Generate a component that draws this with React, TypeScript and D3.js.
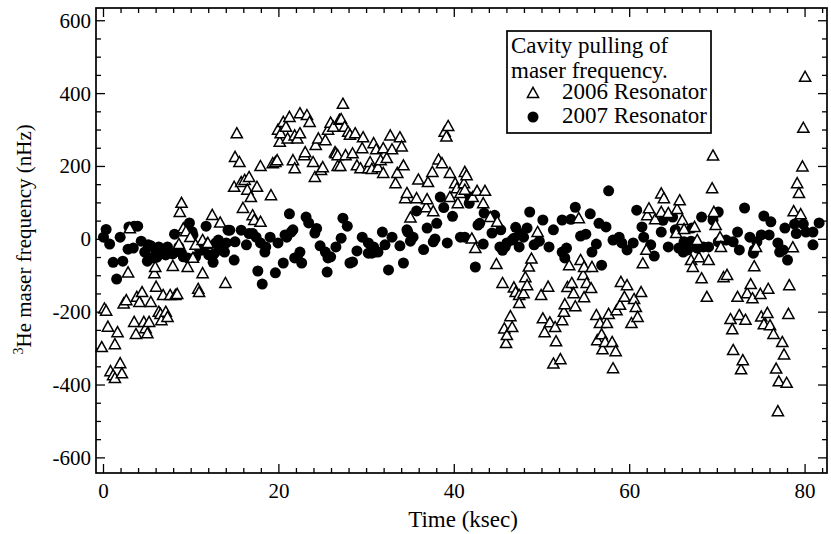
import React from "react";
import * as d3 from "d3";

// [time ksec, shift nHz]
const res2006: [number, number][] = [
  [-0.2, -296], [0.1, -190], [0.3, -196], [0.5, -240], [0.8, -362], [1.1, -373], [1.3, -381], [1.3, -288],
  [1.6, -255], [1.9, -340], [2.1, -368], [2.3, -176], [2.6, -167], [2.8, -91], [3.0, 30], [3.5, -227],
  [3.7, -260], [3.8, -158], [4.1, -172], [4.4, -145], [4.6, -227], [4.8, -244], [5.0, -258], [5.2, -227],
  [5.4, -172], [5.8, -93], [5.9, -76], [6.0, -130], [6.3, -199], [6.5, -205], [6.6, -222], [6.8, -153],
  [7.1, -199], [7.3, -213], [7.6, -153], [7.9, -73], [8.2, -153], [8.4, -150], [8.6, -13], [8.7, 75],
  [8.9, 100], [9.1, 30], [9.4, 22], [9.6, -76], [9.9, 6], [10.2, -51], [10.5, -15], [10.8, -136],
  [10.9, -145], [11.3, -93], [11.3, -2], [11.8, -13], [11.9, -10], [12.4, 67], [13.3, 46], [13.9, -120],
  [14.9, 144], [15.0, 226], [15.2, 291], [15.5, 212], [15.7, 157], [15.9, 86], [16.1, 163], [16.4, 136],
  [16.6, 171], [16.8, 116], [17.0, 66], [17.2, 53], [17.5, 144], [17.9, 201], [17.9, 48], [19.1, 121],
  [19.3, 209], [19.6, 212], [19.8, 217], [19.9, 301], [20.1, 268], [20.2, 291], [20.5, 322], [20.8, 309],
  [21.0, 277], [21.2, 336], [21.6, 217], [21.8, 195], [21.8, 285], [22.1, 277], [22.4, 291], [22.4, 346],
  [22.9, 231], [23.0, 239], [23.2, 341], [23.5, 322], [23.9, 212], [24.1, 171], [24.2, 259], [24.5, 277],
  [24.8, 190], [25.0, 198], [25.3, 272], [25.6, 301], [25.9, 320], [26.2, 309], [26.4, 239], [26.5, 236],
  [26.7, 231], [26.7, 201], [26.9, 328], [27.0, 201], [27.1, 330], [27.3, 372], [27.5, 309], [27.6, 231],
  [27.9, 295], [28.1, 287], [28.4, 236], [28.7, 291], [28.9, 203], [29.3, 195], [29.5, 250], [29.6, 280],
  [30.2, 195], [30.4, 212], [30.6, 193], [30.8, 264], [31.1, 247], [31.3, 198], [31.6, 217], [31.9, 182],
  [31.9, 250], [32.3, 223], [32.7, 285], [32.9, 247], [33.3, 154], [33.5, 182], [33.8, 280], [34.0, 255],
  [34.2, 203], [34.4, 113], [34.6, 127], [35.0, 60], [35.7, 113], [35.9, 164], [36.8, 88], [36.9, 110],
  [37.0, 157], [37.5, 185], [37.6, 77], [38.2, 219], [38.6, 209], [38.9, 295], [39.1, 282], [39.3, 311],
  [39.5, 182], [39.5, 116], [40.1, 154], [40.3, 140], [40.4, 99], [40.7, 127], [41.1, 154], [41.2, 185],
  [41.2, 136], [41.4, 176], [42.0, 2], [42.1, 116], [42.4, -24], [42.6, 133], [43.3, 99], [43.5, 133],
  [44.1, 61], [44.8, -68], [44.9, 48], [45.5, -120], [45.7, -245], [45.9, -285], [46.0, -263], [46.4, -211],
  [46.6, -241], [46.8, -132], [47.0, -145], [47.4, -153], [47.4, -175], [47.9, -148], [48.1, -104], [48.3, -126],
  [48.5, -75], [48.8, -53], [49.5, 20], [49.9, -153], [50.1, -217], [50.3, -255], [50.7, -130], [50.9, -228],
  [51.3, -341], [51.5, -241], [51.6, -280], [52.1, -329], [52.3, -222], [52.5, -199], [52.6, -178], [52.9, -131],
  [53.1, -71], [53.4, -120], [53.6, -148], [53.8, -184], [54.2, 58], [54.4, -57], [54.7, -98], [54.8, -159],
  [54.8, -76], [55.1, -120], [55.6, -134], [55.7, -76], [56.2, -208], [56.3, -277], [56.6, -230], [56.8, -261],
  [56.9, -302], [57.2, -282], [57.4, -230], [57.6, -205], [58.0, -282], [58.1, -354], [58.4, -307], [58.5, -195],
  [58.9, -180], [59.0, -117], [59.4, -158], [59.7, -126], [60.2, -230], [60.5, -164], [60.7, -186], [60.9, -213],
  [61.3, -145], [61.5, -66], [61.9, -29], [62.0, 66], [62.2, 85], [62.9, 55], [63.6, 75], [63.6, 126],
  [63.9, 113], [64.4, 72], [65.3, 17], [65.4, 83], [65.7, 107], [66.0, 53], [66.2, 28], [67.0, -57],
  [67.2, -76], [67.4, 34], [67.7, -2], [67.9, -49], [68.2, -107], [68.8, -158], [69.0, -57], [69.4, 140],
  [69.5, 230], [69.6, 75], [69.8, 39], [70.3, 6], [70.4, -21], [70.7, -104], [71.1, -98], [71.5, -219],
  [71.7, -247], [71.8, -304], [72.3, -158], [72.5, -208], [72.7, -357], [72.9, -332], [73.2, -221], [73.4, -148],
  [73.8, -123], [74.0, -162], [74.2, -74], [74.4, -21], [74.9, -150], [75.0, -212], [75.3, -233], [75.7, -202],
  [75.8, -136], [76.0, -236], [76.4, -260], [76.7, -355], [76.9, -472], [77.0, -390], [77.4, -282], [77.6, -316],
  [77.9, -394], [78.1, -205], [78.2, -126], [78.6, -22], [78.7, 77], [79.1, 154], [79.3, 127], [79.5, 69],
  [79.7, 200], [79.8, 306], [80.0, 446],
];

const res2007: [number, number][] = [
  [0.0, 6], [0.3, 27], [0.7, -13], [1.1, -63], [1.5, -109], [1.9, 6], [2.2, -60], [2.8, -27],
  [2.9, 34], [3.4, -24], [3.5, 36], [3.9, 36], [4.3, -5], [4.7, -35], [5.0, -60], [5.1, -15],
  [5.4, -18], [5.5, -51], [5.9, -29], [6.1, -49], [6.3, -21], [6.8, -35], [7.1, -43], [7.3, -21],
  [7.9, -40], [8.1, 14], [8.6, -21], [8.9, -38], [9.1, -48], [9.6, -51], [9.8, 45], [10.1, 21],
  [10.2, 12], [10.5, -48], [10.8, -21], [11.1, -30], [11.4, -25], [11.7, 36], [12.0, -43], [12.5, -63],
  [12.6, -40], [12.8, -10], [13.1, -2], [13.2, -29], [13.6, -20], [13.8, -35], [14.0, -10], [14.2, 25],
  [14.4, 25], [14.9, -57], [15.0, -7], [15.7, 25], [16.3, -15], [16.6, 16], [17.0, 16], [17.4, 6],
  [17.6, -87], [17.9, -10], [18.1, -123], [18.4, -35], [18.5, -21], [19.0, 6], [19.6, -92], [19.9, -10],
  [20.5, -65], [20.7, 12], [20.9, 6], [21.2, 70], [21.4, 20], [21.6, 26], [21.8, -51], [22.1, -49],
  [22.4, -35], [22.6, -65], [23.1, 61], [23.4, 45], [24.1, 17], [24.3, 30], [24.7, -18], [25.3, -35],
  [25.5, -90], [25.6, -51], [25.9, -48], [26.5, -21], [27.1, 3], [27.3, 58], [27.8, 36], [28.1, -65],
  [28.4, -62], [28.9, -32], [29.5, 6], [30.2, -10], [30.2, -38], [30.6, -38], [30.8, -21], [30.9, -35],
  [31.3, -35], [31.8, 20], [32.1, -15], [32.5, -84], [32.9, 6], [33.8, -18], [34.2, -65], [34.6, 26],
  [34.7, 20], [35.0, -5], [35.3, 6], [35.7, 78], [36.5, -28], [36.9, 31], [37.6, -7], [37.8, 1],
  [38.0, 44], [38.4, 116], [38.8, 87], [39.2, -10], [39.8, 63], [40.7, 6], [41.2, 6], [41.7, 99],
  [41.8, 116], [42.4, -76], [42.7, 39], [42.9, 44], [43.3, -13], [43.4, 72], [44.3, 17], [44.6, 66],
  [45.2, -21], [45.3, 26], [45.5, -30], [45.8, -21], [46.0, -10], [46.6, -2], [46.8, 3], [47.0, 33],
  [47.4, -21], [47.5, 16], [47.9, 6], [48.3, 31], [48.6, 75], [49.1, -15], [49.7, -5], [50.1, 53],
  [50.8, -21], [51.3, 26], [52.3, -35], [52.3, 53], [52.6, -51], [52.8, -24], [53.3, 55], [53.8, 88],
  [54.4, 9], [55.0, 14], [55.5, 70], [55.7, -35], [56.2, -13], [56.5, 44], [56.8, -71], [57.3, 34],
  [57.6, 133], [58.1, -2], [58.8, 6], [59.1, -10], [59.7, -29], [60.4, -10], [60.8, 80], [61.4, 34],
  [61.6, 6], [62.4, -15], [62.8, -46], [63.6, 20], [63.8, 52], [64.4, -21], [64.9, 61], [65.2, 26],
  [65.6, -24], [66.1, -35], [66.2, -7], [66.6, -29], [67.0, -5], [67.1, 31], [67.7, -24], [68.2, 61],
  [68.4, -21], [69.0, -21], [69.5, 53], [70.1, 75], [70.1, -7], [71.0, -2], [71.8, -7], [72.3, 20],
  [72.5, -29], [73.1, 86], [73.7, 6], [74.1, -38], [74.2, -29], [74.5, -7], [75.0, 12], [75.3, 64],
  [75.9, 12], [76.1, 48], [76.9, -10], [77.1, -35], [77.5, -29], [77.7, 31], [78.0, -57], [78.8, 42],
  [79.0, 16], [79.8, 42], [80.1, 20], [80.9, 20], [80.9, -15], [81.6, 45],
];

const xLabels = [0, 20, 40, 60, 80];
const yLabels = [-600, -400, -200, 0, 200, 400, 600];
const legendTitle = ["Cavity pulling of", "maser frequency."];
const seriesNames = ["2006 Resonator", "2007 Resonator"];

const W = 831;
const H = 534;
const frame = { left: 96, right: 827, top: 8, bottom: 473 };
const serif = { fontFamily: "Liberation Serif, Times New Roman, serif" };

export default function App() {
  const x = d3.scaleLinear().domain([-0.855, 82.5]).range([frame.left, frame.right]);
  const y = d3.scaleLinear().domain([-641.5, 635]).range([frame.bottom, frame.top]);

  const xMinor = d3.range(0, 83, 2);
  const yMinor = d3.range(-600, 636, 50);
  const tri = (cx: number, cy: number, s = 5.6) =>
    `M${cx},${cy - s}L${cx + s},${cy + s * 0.8}L${cx - s},${cy + s * 0.8}Z`;

  return (
    <svg width={W} height={H} style={{ position: "absolute", left: 0, top: 0, background: "#fff", ...serif }}>
      <rect x={0} y={0} width={W} height={H} fill="#fff" />
      {/* ticks */}
      {xMinor.map((v) => {
        const len = v % 20 === 0 ? 9 : 5;
        return (
          <g key={"xt" + v} stroke="#000" strokeWidth={1.3}>
            <line x1={x(v)} x2={x(v)} y1={frame.bottom} y2={frame.bottom - len} />
            <line x1={x(v)} x2={x(v)} y1={frame.top} y2={frame.top + len} />
          </g>
        );
      })}
      {yMinor.map((v) => {
        const len = v % 200 === 0 ? 9 : 5;
        return (
          <g key={"yt" + v} stroke="#000" strokeWidth={1.3}>
            <line x1={frame.left} x2={frame.left + len} y1={y(v)} y2={y(v)} />
            <line x1={frame.right} x2={frame.right - len} y1={y(v)} y2={y(v)} />
          </g>
        );
      })}
      {xLabels.map((v) => (
        <text key={"xl" + v} x={x(v)} y={498} textAnchor="middle" fontSize={21} style={serif}>
          {v}
        </text>
      ))}
      {yLabels.map((v) => (
        <text key={"yl" + v} x={91} y={y(v) + 7} textAnchor="end" fontSize={21} style={serif}>
          {v}
        </text>
      ))}
      <text x={463} y={527} textAnchor="middle" fontSize={23} style={serif}>
        Time (ksec)
      </text>
      <text transform={`translate(31,${y(0)}) rotate(-90)`} textAnchor="middle" fontSize={21} style={serif}>
        <tspan dy={-8} fontSize={14}>3</tspan>
        <tspan dy={8}>He maser frequency (nHz)</tspan>
      </text>

      {/* data */}
      {res2007.map(([t, f], i) => (
        <circle key={"c" + i} cx={x(t)} cy={y(f)} r={5.5} fill="#000" />
      ))}
      {res2006.map(([t, f], i) => (
        <path key={"t" + i} d={tri(x(t), y(f))} fill="#fff" stroke="#000" strokeWidth={1.5} />
      ))}

      <rect x={frame.left} y={frame.top} width={frame.right - frame.left} height={frame.bottom - frame.top}
        fill="none" stroke="#000" strokeWidth={1.7} />

      {/* legend */}
      <rect x={507} y={31} width={204} height={102} fill="#fff" stroke="#000" strokeWidth={1.7} />
      <text x={511} y={53} fontSize={23} style={serif}>{legendTitle[0]}</text>
      <text x={511} y={78} fontSize={23} style={serif}>{legendTitle[1]}</text>
      <path d={tri(533, 93)} fill="#fff" stroke="#000" strokeWidth={1.5} />
      <text x={707} y={99} textAnchor="end" fontSize={23} style={serif}>{seriesNames[0]}</text>
      <circle cx={533} cy={117} r={5.5} fill="#000" />
      <text x={707} y={123} textAnchor="end" fontSize={23} style={serif}>{seriesNames[1]}</text>
    </svg>
  );
}
